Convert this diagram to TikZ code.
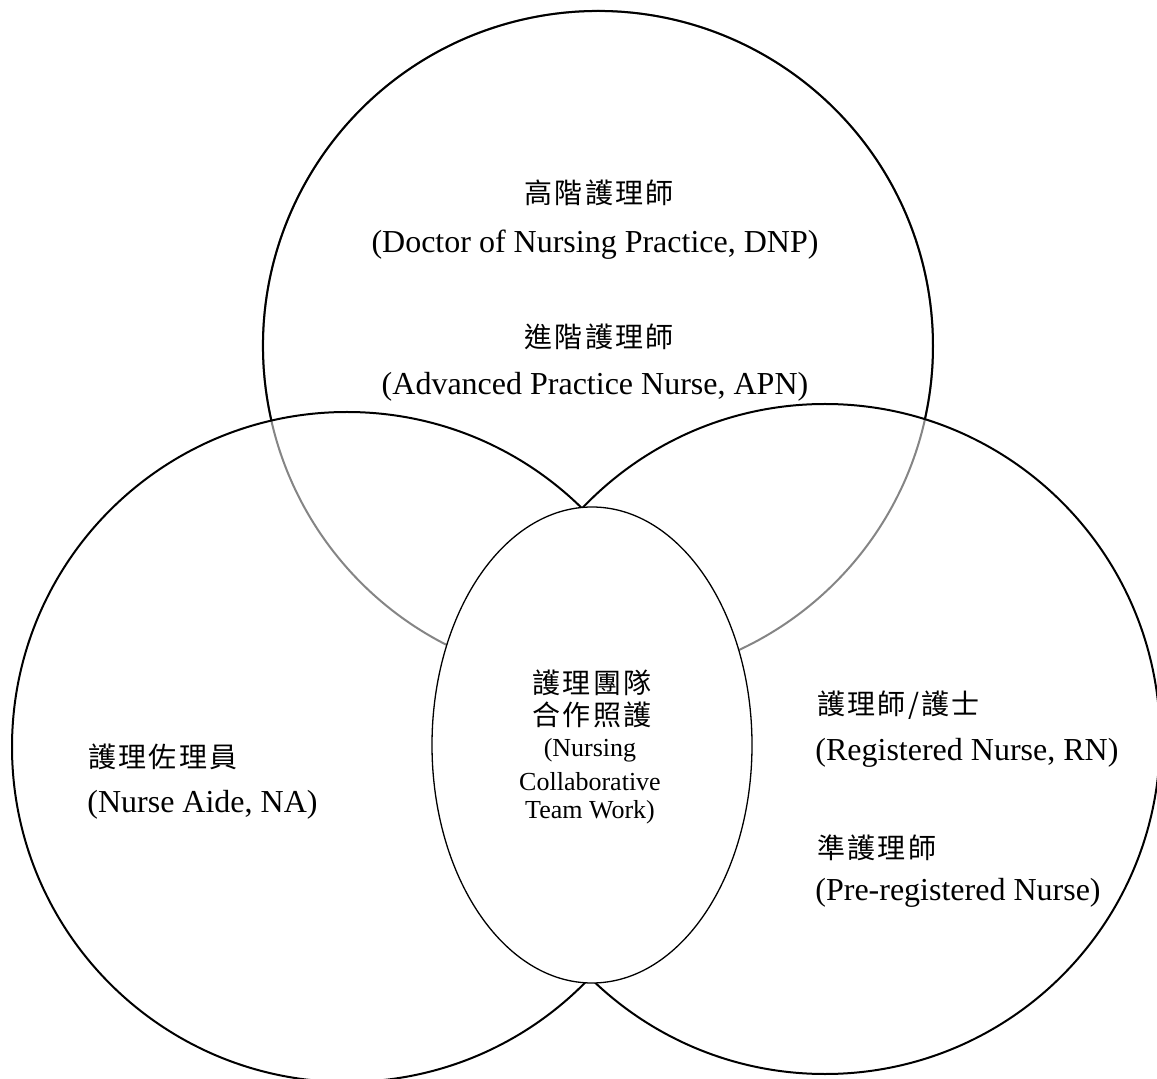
\documentclass[tikz,border=0pt]{standalone}
\usepackage{fontspec}
\setmainfont{Liberation Serif}
\newfontfamily\cjk[LetterSpace=8]{Noto Sans CJK TC}
\begin{document}
\begin{tikzpicture}[x=0.5pt,y=-0.5pt,
  ring/.style={line width=1pt, draw=black},
  hidden ring/.style={line width=1pt, draw=black!48},
  core/.style={line width=0.65pt, draw=black, fill=white},
  en/.style={inner sep=0pt, font=\fontsize{16}{19}\selectfont},
  ensmall/.style={inner sep=0pt, font=\fontsize{13}{15}\selectfont},
  zh/.style={inner sep=0pt, font=\cjk\fontsize{14}{17}\selectfont}]
\useasboundingbox (0,0) rectangle (1157,1079);

% circle centres
\coordinate (top) at (598,346);
\coordinate (left) at (347,747);
\coordinate (right) at (825,739);
\coordinate (mid) at (592,745);

% upper circle: lower part (inside the other two) in grey, upper part in black
\draw[hidden ring] (top) circle[radius=335];
\draw[ring] (top) ++(167.1:335) arc[start angle=167.1, end angle=372.6, radius=335];

% lower circles
\draw[ring] (left) circle[radius=335];
\draw[ring] (right) circle[radius=335];

% central ellipse
\draw[core] (mid) ellipse[x radius=160, y radius=238];

% upper circle labels
\node[zh] (dnpzh) at (599,193) {高階護理師};
\node[en] (dnpen) at (595,245) {(Doctor of Nursing Practice, DNP)};
\node[zh] (apnzh) at (599,337) {進階護理師};
\node[en] (apnen) at (595,387) {(Advanced Practice Nurse, APN)};

% left circle labels
\node[zh, anchor=west] (nazh) at (88,757) {護理佐理員};
\node[en, anchor=west] (naen) at (87,805) {(Nurse Aide, NA)};

% right circle labels
\node[zh, anchor=west] (rnzh) at (817,705) {護理師/護士};
\node[en, anchor=west] (rnen) at (815,753) {(Registered Nurse, RN)};
\node[zh, anchor=west] (prezh) at (817,848) {準護理師};
\node[en, anchor=west] (preen) at (815,893) {(Pre-registered Nurse)};

% centre labels
\node[zh] (team1) at (592,683) {護理團隊};
\node[zh] (team2) at (592,715) {合作照護};
\node[ensmall] (team3) at (590,750) {(Nursing};
\node[ensmall] (team4) at (590,782) {Collaborative};
\node[ensmall] (team5) at (590,812) {Team Work)};
\end{tikzpicture}
\end{document}
